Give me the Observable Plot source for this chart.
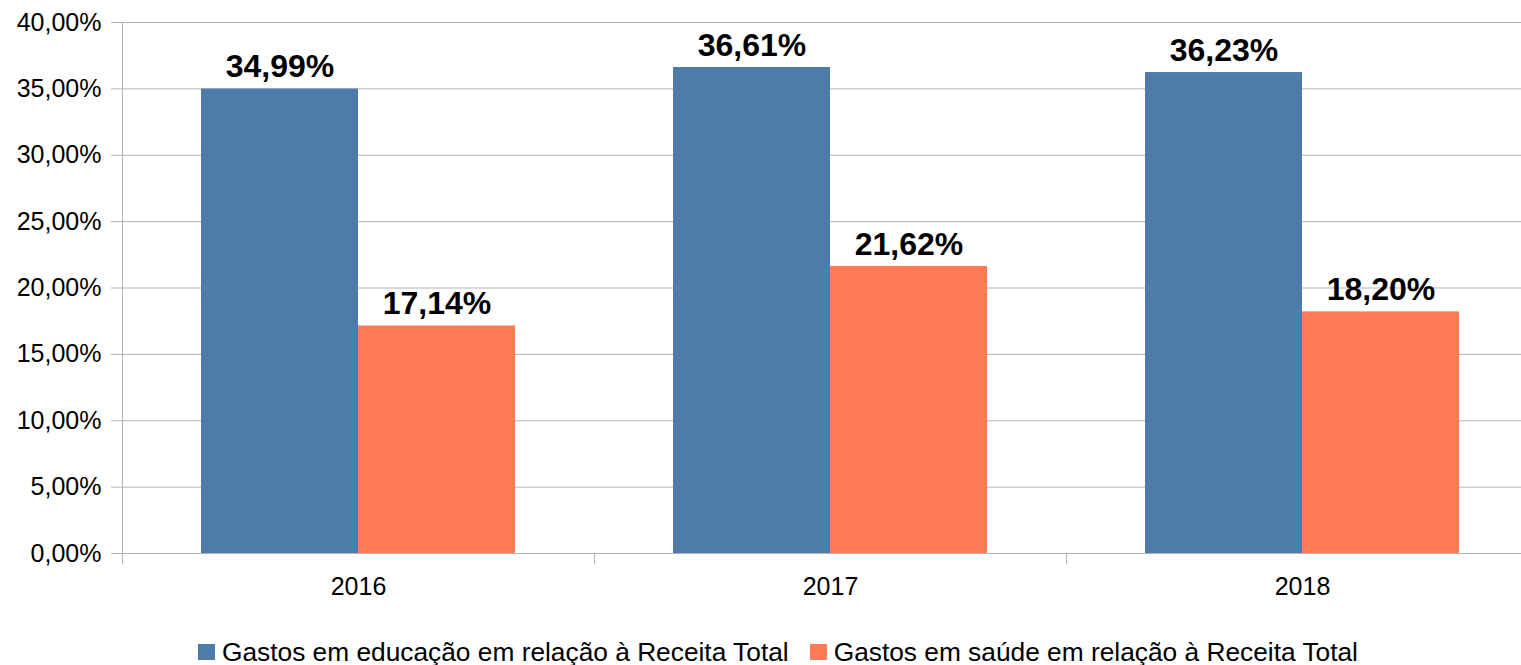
<!DOCTYPE html>
<html>
<head>
<meta charset="utf-8">
<script src="https://cdn.jsdelivr.net/npm/d3@7"></script>
<script src="https://cdn.jsdelivr.net/npm/@observablehq/plot@0.6"></script>
<style>
  html, body { margin: 0; padding: 0; background: #fff; overflow: hidden; }
  body { width: 1521px; height: 665px; font-family: "Liberation Sans", Arial, sans-serif; }
  #legend { display: flex; align-items: center; height: 64px; margin-left: 198px; font-size: 26.3px; color: #000; white-space: nowrap; }
  .item { display: flex; align-items: center; margin-right: 21px; }
  .sw { width: 17px; height: 16px; margin-right: 7px; }
</style>
</head>
<body>
<div id="chart"></div>
<div id="legend"></div>
<script>
const years = ["2016", "2017", "2018"];
const seriesNames = [
  "Gastos em educação em relação à Receita Total",
  "Gastos em saúde em relação à Receita Total"
];
const educacao = [34.99, 36.61, 36.23];
const saude = [17.14, 21.62, 18.20];
const yTicks = [0, 5, 10, 15, 20, 25, 30, 35, 40];
const colors = ["#4d7cab", "#ff7b55"];

const data = years.flatMap((year, i) => [
  {year, series: seriesNames[0], value: educacao[i]},
  {year, series: seriesNames[1], value: saude[i]}
]);

const ptBR = d3.formatLocale({decimal: ",", thousands: ".", grouping: [3], currency: ["R$", ""]});
const f2 = ptBR.format(".2f");
const pct = v => f2(v) + "%";

const H = 620, MT = 22, MB = 67;
const plot = Plot.plot({
  width: 1521,
  height: H,
  marginTop: MT,
  marginBottom: MB,
  marginLeft: 122,
  marginRight: -17,
  style: {fontFamily: "Liberation Sans, Arial, sans-serif", fontSize: "25px", color: "#000"},
  fx: {domain: years, padding: 0, label: null, axis: null},
  x: {domain: seriesNames, paddingInner: 0, paddingOuter: 0.5, axis: null},
  y: {domain: [0, 40], label: null, axis: null},
  color: {domain: seriesNames, range: colors},
  marks: [
    Plot.gridY(yTicks, {stroke: "#b3b3b3", strokeOpacity: 1}),
    Plot.frame({anchor: "left", facetAnchor: "left", stroke: "#b3b3b3", strokeOpacity: 1, insetBottom: -10}),
    Plot.frame({anchor: "left", stroke: "#b3b3b3", strokeOpacity: 1, insetTop: H - MT - MB, insetBottom: -10}),
    Plot.axisY(yTicks, {tickSize: 11, tickPadding: 10, tickFormat: v => pct(v), stroke: "#b3b3b3", fontSize: 25, label: null}),
    Plot.axisFx({anchor: "bottom", tickSize: 0, tickPadding: 24, fontSize: 25, label: null}),
    Plot.barY(data, {fx: "year", x: "series", y: "value", fill: "series"}),
    Plot.text(data, {fx: "year", x: "series", y: "value", text: d => pct(d.value), dy: -22, fontWeight: "bold", fontSize: 32, fill: "#000"})
  ]
});
document.getElementById("chart").appendChild(plot);

const legend = document.getElementById("legend");
seriesNames.forEach((name, i) => {
  const it = document.createElement("div");
  it.className = "item";
  const sw = document.createElement("div");
  sw.className = "sw";
  sw.style.background = colors[i];
  const t = document.createElement("span");
  t.textContent = name;
  it.appendChild(sw); it.appendChild(t);
  legend.appendChild(it);
});
</script>
</body>
</html>
